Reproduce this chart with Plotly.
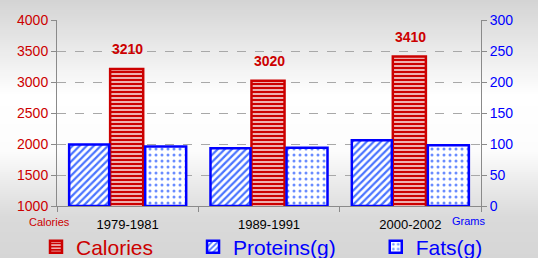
import plotly.graph_objects as go

categories = ["1979-1981", "1989-1991", "2000-2002"]
calories = [3210, 3020, 3410]
proteins = [99, 93, 106]
fats = [96, 94, 98]

left_ticks = [1000, 1500, 2000, 2500, 3000, 3500, 4000]
right_ticks = [0, 50, 100, 150, 200, 250, 300]

RED = "#cc0000"
BLUE = "#0000ff"
FONT = "Liberation Sans"
W, H = 538, 258
L, R, T, B = 57, 57, 20, 52
PAD = "\u00a0" * 6

fig = go.Figure()

fig.add_trace(go.Bar(
    x=categories, y=proteins, yaxis="y2",
    name=f'<span style="color:#0000ff">Proteins(g){PAD}</span>',
    width=0.283, offset=-0.414,
    marker=dict(color="white", line=dict(color=BLUE, width=2.5),
                pattern=dict(shape="/", fgcolor="#4a74ff", bgcolor="white",
                             size=5, solidity=0.45, fillmode="replace")),
    legendrank=2,
))
fig.add_trace(go.Bar(
    x=categories, y=calories, yaxis="y",
    name=f'<span style="color:#cc0000">Calories{PAD}</span>',
    width=0.234, offset=-0.124,
    marker=dict(color=RED, line=dict(color=RED, width=2.5),
                pattern=dict(shape="-", fgcolor="#f6dcdc", bgcolor=RED,
                             size=4, solidity=0.4, fillmode="replace")),
    legendrank=1,
))
fig.add_trace(go.Bar(
    x=categories, y=fats, yaxis="y2",
    name='<span style="color:#0000ff">Fats(g)</span>',
    width=0.29, offset=0.124,
    marker=dict(color="white", line=dict(color=BLUE, width=2.5),
                pattern=dict(shape=".", fgcolor="#6a8cff", bgcolor="white",
                             size=6, solidity=0.2, fillmode="replace")),
    legendrank=3,
))

# Data labels for calories
for c, v in zip(categories, calories):
    fig.add_annotation(x=c, y=v, xref="x", yref="y", text=f"<b>{v}</b>",
                       showarrow=False, yanchor="bottom", yshift=10,
                       font=dict(color=RED, size=14, family=FONT))

# Background gradient (paper coordinates spanning whole figure)
ph = H - T - B
def fy(py):
    return (H - B - py) / ph
def fx(px):
    return (px - L) / (W - L - R)
stops = [(0, 212), (95, 255), (150, 252), (215, 218), (258, 214)]
shapes = []
for py in range(0, H, 2):
    for i in range(len(stops) - 1):
        if stops[i][0] <= py <= stops[i + 1][0]:
            a, b = stops[i], stops[i + 1]
            g = a[1] + (b[1] - a[1]) * (py - a[0]) / (b[0] - a[0])
            break
    g = int(round(g))
    shapes.append(dict(type="rect", xref="paper", yref="paper",
                       x0=fx(0), x1=fx(W), y0=fy(py + 2), y1=fy(py),
                       fillcolor=f"rgb({g},{g},{g})", line=dict(width=0),
                       layer="below"))

fig.add_annotation(xref="paper", yref="paper", x=fx(49), y=fy(222),
                   text="Calories", showarrow=False, xanchor="center",
                   yanchor="middle", font=dict(color=RED, size=11, family=FONT))
fig.add_annotation(xref="paper", yref="paper", x=fx(469), y=fy(221),
                   text="Grams", showarrow=False, xanchor="center",
                   yanchor="middle", font=dict(color=BLUE, size=11, family=FONT))

fig.update_layout(
    width=W, height=H,
    margin=dict(l=L, r=R, t=T, b=B, pad=0, autoexpand=False),
    paper_bgcolor="rgba(0,0,0,0)", plot_bgcolor="rgba(0,0,0,0)",
    barmode="overlay",
    shapes=shapes,
    font=dict(family=FONT),
    xaxis=dict(showline=True, linecolor="#8a8a8a", linewidth=1,
               ticks="outside", tickson="boundaries", ticklen=5,
               tickcolor="#8a8a8a", tickfont=dict(color="black", size=13),
               ticklabelstandoff=6, showgrid=False),
    yaxis=dict(range=[1000, 4000], tickvals=left_ticks, showline=True,
               linecolor="#8a8a8a", ticks="outside", ticklen=5,
               tickcolor="#8a8a8a", tickfont=dict(color=RED, size=14),
               showgrid=True, gridcolor="#a8a8a8", griddash="dash",
               gridwidth=1, zeroline=False),
    yaxis2=dict(range=[0, 300], tickvals=right_ticks, overlaying="y",
                side="right", showline=True, linecolor="#8a8a8a",
                ticks="outside", ticklen=5, tickcolor="#8a8a8a",
                tickfont=dict(color=BLUE, size=14), showgrid=False,
                zeroline=False),
    legend=dict(orientation="h", x=fx(36), xanchor="left", y=fy(247),
                yanchor="middle", font=dict(size=21, family=FONT),
                bgcolor="rgba(0,0,0,0)", itemwidth=30,
                traceorder="normal"),
    showlegend=True,
)

fig.write_html("out.html", config={"displayModeBar": False},
               post_script="document.body.style.margin='0';document.body.style.overflow='hidden';")
